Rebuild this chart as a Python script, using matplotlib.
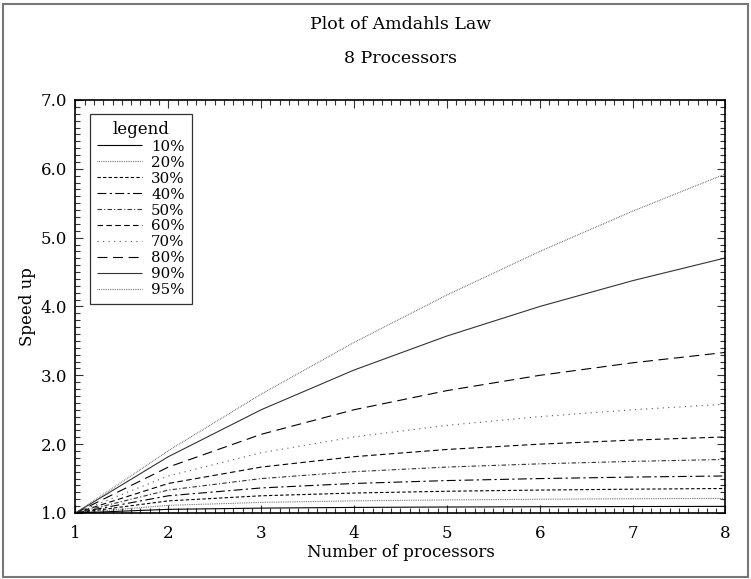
import numpy as np
import matplotlib
matplotlib.use('Agg')
import matplotlib.pyplot as plt
from matplotlib.patches import Rectangle
from matplotlib.ticker import MultipleLocator, FormatStrFormatter

plt.rcParams['font.family'] = ['DejaVu Serif']

# Datos
procesadores = [1, 2, 3, 4, 5, 6, 7, 8]
etiquetas = ['10%', '20%', '30%', '40%', '50%', '60%', '70%', '80%', '90%', '95%']
s10 = [1.0, 1.053, 1.071, 1.081, 1.087, 1.091, 1.094, 1.096]
s20 = [1.0, 1.111, 1.154, 1.176, 1.190, 1.200, 1.207, 1.212]
s30 = [1.0, 1.176, 1.250, 1.290, 1.316, 1.333, 1.346, 1.356]
s40 = [1.0, 1.250, 1.364, 1.429, 1.471, 1.500, 1.522, 1.538]
s50 = [1.0, 1.333, 1.500, 1.600, 1.667, 1.714, 1.750, 1.778]
s60 = [1.0, 1.429, 1.667, 1.818, 1.923, 2.000, 2.059, 2.105]
s70 = [1.0, 1.538, 1.875, 2.105, 2.273, 2.400, 2.500, 2.581]
s80 = [1.0, 1.667, 2.143, 2.500, 2.778, 3.000, 3.182, 3.333]
s90 = [1.0, 1.818, 2.500, 3.077, 3.571, 4.000, 4.375, 4.706]
s95 = [1.0, 1.905, 2.727, 3.478, 4.167, 4.800, 5.385, 5.926]
series = [s10, s20, s30, s40, s50, s60, s70, s80, s90, s95]

estilos = [
    (0, ()),
    (0, (0.6, 1.0)),
    (0, (3, 2)),
    (0, (8, 3, 2, 3)),
    (0, (4, 2, 1, 2)),
    (0, (5, 3)),
    (0, (1, 4)),
    (0, (9, 5)),
    (0, ()),
    (0, (0.6, 1.0)),
]
colores = ['black', '#444444', 'black', 'black', '#333333',
           'black', '#555555', 'black', '#333333', '#444444']

fig = plt.figure(figsize=(7.51, 5.79), dpi=100)
ax = fig.add_axes([0.1005, 0.114, 0.8655, 0.7133])

for s, lab, ls, c in zip(series, etiquetas, estilos, colores):
    ax.plot(procesadores, s, linestyle=ls, color=c, lw=0.8, label=lab)

ax.set_xlim(1, 8)
ax.set_ylim(1.0, 7.0)
ax.xaxis.set_major_locator(MultipleLocator(1))
ax.xaxis.set_minor_locator(MultipleLocator(0.1))
ax.yaxis.set_major_locator(MultipleLocator(1))
ax.yaxis.set_minor_locator(MultipleLocator(0.1))
ax.yaxis.set_major_formatter(FormatStrFormatter('%.1f'))
ax.tick_params(which='both', direction='in', top=True, right=True,
               labelsize=12, width=0.8, color='#333333')
ax.tick_params(which='major', length=6, pad=9)
ax.tick_params(axis='y', which='major', pad=6)
ax.tick_params(which='minor', length=3.5)
for sp in ax.spines.values():
    sp.set_linewidth(1.2)

ax.set_xlabel('Number of processors', fontsize=12, labelpad=1)
ax.set_ylabel('Speed up', fontsize=12, labelpad=3)

leg = ax.legend(title='legend', loc='upper left', bbox_to_anchor=(0.023, 0.966),
                fontsize=10.8, title_fontsize=12, frameon=True, fancybox=False,
                handlelength=3.0, labelspacing=0.13, borderpad=0.45,
                handletextpad=0.6, borderaxespad=0)
leg.get_frame().set_edgecolor('black')
leg.get_frame().set_linewidth(0.9)

centro = 0.1005 + 0.8655 / 2
fig.text(centro, 0.958, 'Plot of Amdahls Law', ha='center', va='center', fontsize=12.5)
fig.text(centro, 0.899, '8 Processors', ha='center', va='center', fontsize=12.5)

fig.patches.append(Rectangle((0.004, 0.003), 0.992, 0.99, transform=fig.transFigure,
                             fill=False, edgecolor='#777777', lw=1.5))

fig.savefig('out.png', dpi=100)
